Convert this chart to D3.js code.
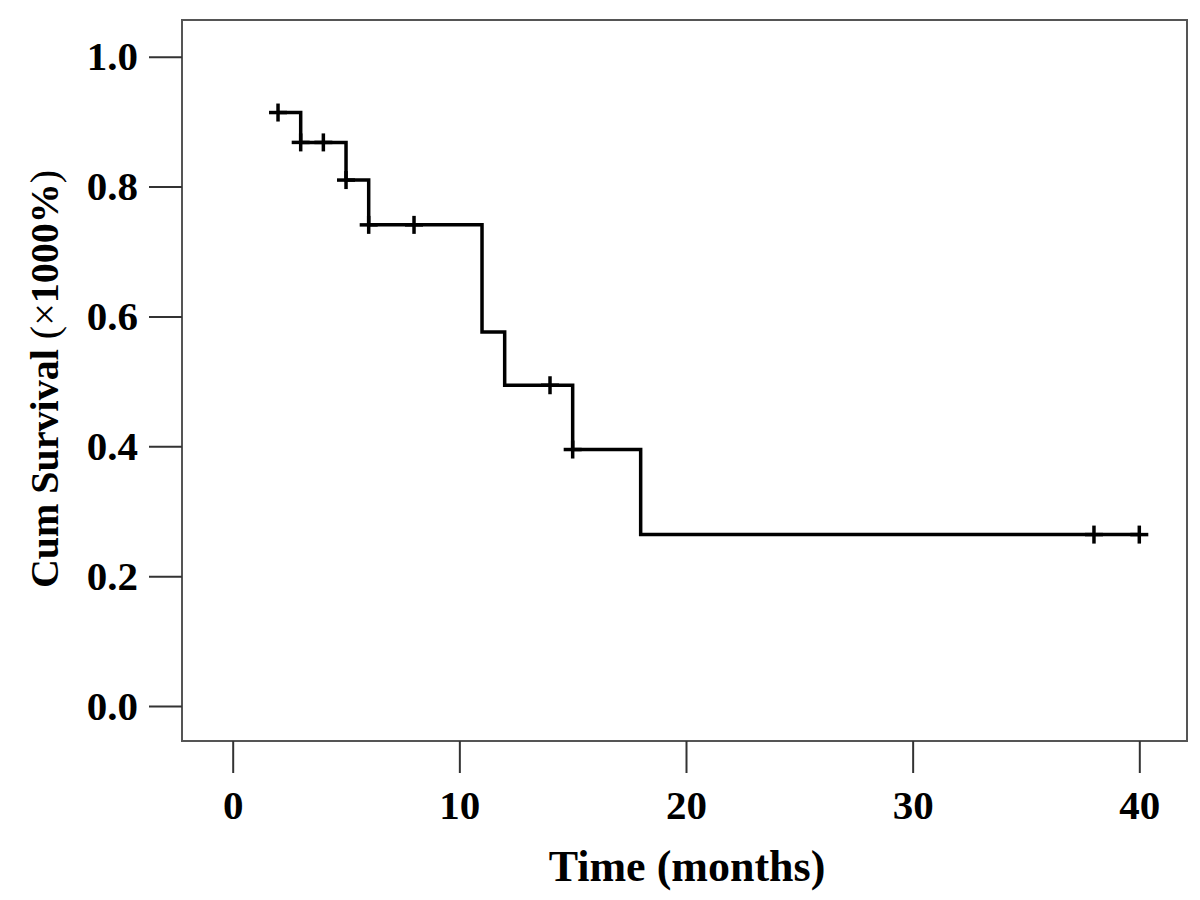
<!DOCTYPE html>
<html>
<head>
<meta charset="utf-8">
<script src="https://cdn.jsdelivr.net/npm/d3@7"></script>
<style>
  html, body { margin: 0; padding: 0; background: #fff; }
  svg { display: block; }
  text { font-family: "Liberation Serif", "Times New Roman", serif; font-weight: bold; fill: #000; }
</style>
</head>
<body>
<svg id="chart" width="1200" height="900"></svg>
<script>
// ---- data ----
const startTime = 2;
const endTime = 40;
const eventTimes = [3, 5, 6, 11, 12, 15, 18];
const survivalLevels = [0.914, 0.868, 0.810, 0.741, 0.576, 0.494, 0.395, 0.264];
const censorTimes = [2, 3, 4, 5, 6, 8, 14, 15, 38, 40];
const xTicks = [0, 10, 20, 30, 40];
const yTicks = [0.0, 0.2, 0.4, 0.6, 0.8, 1.0];
const xTitle = "Time (months)";
const yTitleParts = [["Cum Survival ", "bold"], ["(×", "normal"], ["1000%", "bold"], [")", "normal"]];

// ---- layout ----
const svg = d3.select("#chart");
const frame = { left: 182, top: 20, right: 1187, bottom: 741 };
const x = d3.scaleLinear().domain([0, 40]).range([232.7, 1139.3]);
const y = d3.scaleLinear().domain([0, 1]).range([706, 56.7]);

// frame
svg.append("rect")
  .attr("x", frame.left).attr("y", frame.top)
  .attr("width", frame.right - frame.left).attr("height", frame.bottom - frame.top)
  .attr("fill", "none").attr("stroke", "#555").attr("stroke-width", 2);

// y axis
const yAxis = svg.append("g")
  .attr("transform", `translate(${frame.left},0)`)
  .call(d3.axisLeft(y).tickValues(yTicks).tickSize(33).tickPadding(11).tickFormat(d3.format(".1f")));
yAxis.select(".domain").remove();
yAxis.selectAll(".tick line").attr("stroke", "#333").attr("stroke-width", 2);
yAxis.selectAll(".tick text").attr("font-size", 41).attr("font-family", null).attr("dy", "0.32em");

// x axis
const xAxis = svg.append("g")
  .attr("transform", `translate(0,${frame.bottom})`)
  .call(d3.axisBottom(x).tickValues(xTicks).tickSize(32).tickPadding(17).tickFormat(d3.format("d")));
xAxis.select(".domain").remove();
xAxis.selectAll(".tick line").attr("stroke", "#333").attr("stroke-width", 2);
xAxis.selectAll(".tick text").attr("font-size", 41).attr("font-family", null);

// titles
svg.append("text")
  .attr("x", 687).attr("y", 881)
  .attr("text-anchor", "middle")
  .attr("font-size", 44)
  .text(xTitle);

const yt = svg.append("text")
  .attr("transform", "translate(58,379) rotate(-90)")
  .attr("text-anchor", "middle")
  .attr("font-size", 40);
yTitleParts.forEach(([t, w]) => yt.append("tspan").attr("font-weight", w).text(t));

// step curve
const pts = [];
const times = [startTime, ...eventTimes];
times.forEach((t, i) => {
  const next = i < eventTimes.length ? eventTimes[i] : endTime;
  pts.push([t, survivalLevels[i]]);
  pts.push([next, survivalLevels[i]]);
});
const line = d3.line().x(d => x(d[0])).y(d => y(d[1])).curve(d3.curveLinear);
svg.append("path")
  .datum(pts)
  .attr("d", line)
  .attr("fill", "none").attr("stroke", "#000").attr("stroke-width", 3.5)
  .attr("stroke-linejoin", "miter").attr("stroke-linecap", "butt");

// censor marks
function survAt(t) {
  let s = survivalLevels[0];
  eventTimes.forEach((e, i) => { if (t >= e) s = survivalLevels[i + 1]; });
  return s;
}
const half = 9;
const cg = svg.append("g").attr("stroke", "#000").attr("stroke-width", 3.5);
censorTimes.forEach(t => {
  const cx = x(t), cy = y(survAt(t));
  cg.append("line").attr("x1", cx - half).attr("x2", cx + half).attr("y1", cy).attr("y2", cy);
  cg.append("line").attr("x1", cx).attr("x2", cx).attr("y1", cy - half).attr("y2", cy + half);
});
</script>
</body>
</html>
